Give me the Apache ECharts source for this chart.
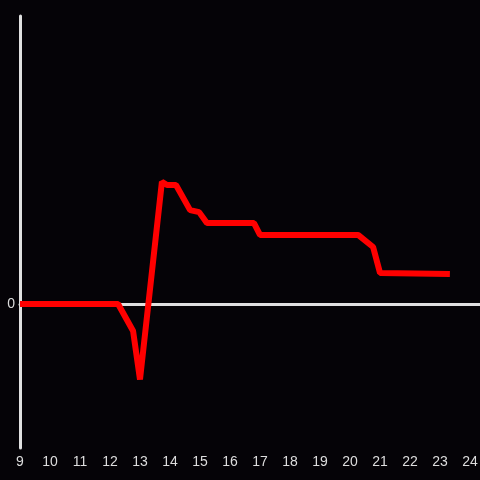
<!DOCTYPE html>
<html>
<head>
<meta charset="utf-8">
<script src="https://cdn.jsdelivr.net/npm/echarts@6/dist/echarts.min.js"></script>
<style>
html, body { margin: 0; padding: 0; background: #050307; }
#chart { width: 480px; height: 480px; }
</style>
</head>
<body>
<div id="chart"></div>
<script>
// time of day (hours) and value
var hours = [9, 12.27, 12.77, 13.0, 13.73, 13.9, 14.2, 14.67, 14.97, 15.23, 16.8, 17.0, 20.27, 20.77, 21.0, 23.33]
var values = [0, 0, -9.4, -26.2, 42.4, 41.3, 41.3, 32.6, 31.9, 28.1, 28.1, 24.0, 24.0, 19.8, 10.8, 10.4]

var points = hours.map(function (h, i) { return [h, values[i]] })

var xMin = 9
var xMax = 9 + 460 / 30

function hourLabel(v) {
	return Math.abs(v - Math.round(v)) < 1e-6 ? String(Math.round(v)) : ""
}

var chart = echarts.init(document.getElementById("chart"))
chart.setOption({
	backgroundColor: "#050307",
	animation: false,
	grid: { left: 20, right: 0, top: 16, bottom: 32, outerBoundsMode: "none", containLabel: false },
	xAxis: [
		{
			// zero line
			type: "value",
			min: xMin,
			max: xMax,
			interval: 1,
			axisLine: { show: true, onZero: true, lineStyle: { color: "#e0e0e0", width: 3 } },
			axisTick: { show: false },
			axisLabel: { show: false },
			splitLine: { show: false }
		},
		{
			// hour labels along the bottom
			type: "value",
			position: "bottom",
			min: xMin,
			max: xMax,
			interval: 1,
			axisLine: { show: false, onZero: false },
			axisTick: { show: false },
			splitLine: { show: false },
			axisLabel: {
				color: "#dddddd",
				fontSize: 14,
				margin: 7,
				showMaxLabel: true,
				hideOverlap: false,
				formatter: hourLabel
			}
		}
	],
	yAxis: {
		type: "value",
		min: -50,
		max: 100,
		interval: 50,
		axisLine: { show: true, lineStyle: { color: "#e0e0e0", width: 3 } },
		axisTick: { show: false },
		splitLine: { show: false },
		axisLabel: {
			color: "#dddddd",
			fontSize: 14,
			margin: 5,
			formatter: function (v) { return v === 0 ? "0" : "" }
		}
	},
	series: [
		{
			type: "line",
			xAxisIndex: 0,
			data: points,
			symbol: "none",
			lineStyle: { color: "#ff0000", width: 6 }
		}
	]
})
</script>
</body>
</html>
